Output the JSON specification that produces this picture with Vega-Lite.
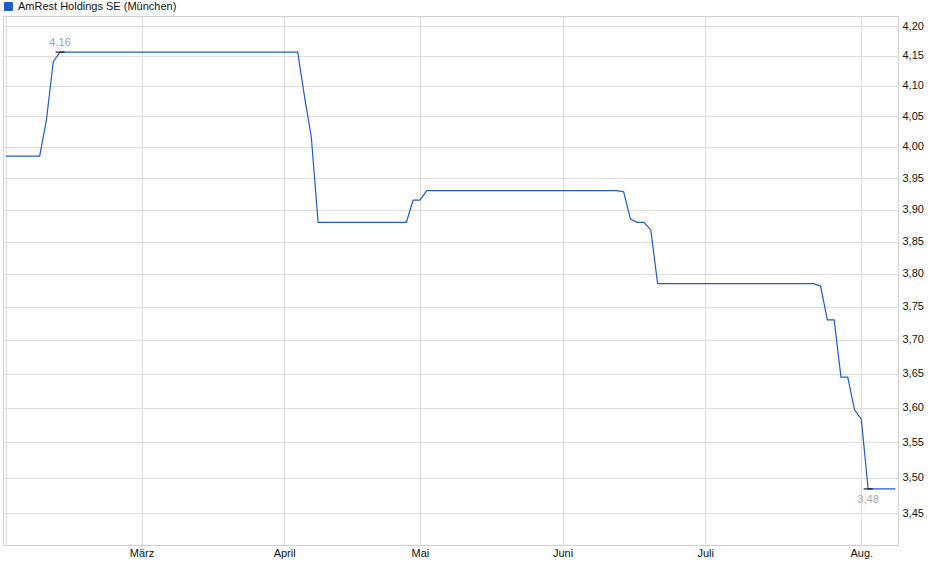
{
  "$schema": "https://vega.github.io/schema/vega-lite/v6.json",
  "autosize": {"type": "none"},
  "padding": {"left": 3, "top": 16, "right": 42, "bottom": 34},
  "width": 895,
  "height": 529,
  "background": "#ffffff",
  "config": {
    "font": "Liberation Sans",
    "view": {"stroke": "#d0d0d0", "strokeWidth": 1},
    "axis": {"labelFont": "Liberation Sans", "labelFontSize": 11, "labelColor": "#111111", "gridColor": "#dddddd", "gridWidth": 1, "domain": false, "ticks": false, "title": null}
  },
  "datasets": {
    "px": [
      {"i":0,"v":3.985},{"i":1,"v":3.985},{"i":2,"v":3.985},{"i":3,"v":3.985},{"i":4,"v":3.985},{"i":5,"v":3.985},
      {"i":6,"v":4.044},{"i":7,"v":4.140},{"i":8,"v":4.156},{"i":9,"v":4.156},{"i":10,"v":4.156},{"i":11,"v":4.156},
      {"i":12,"v":4.156},{"i":13,"v":4.156},{"i":14,"v":4.156},{"i":15,"v":4.156},{"i":16,"v":4.156},{"i":17,"v":4.156},
      {"i":18,"v":4.156},{"i":19,"v":4.156},{"i":20,"v":4.156},{"i":21,"v":4.156},{"i":22,"v":4.156},{"i":23,"v":4.156},
      {"i":24,"v":4.156},{"i":25,"v":4.156},{"i":26,"v":4.156},{"i":27,"v":4.156},{"i":28,"v":4.156},{"i":29,"v":4.156},
      {"i":30,"v":4.156},{"i":31,"v":4.156},{"i":32,"v":4.156},{"i":33,"v":4.156},{"i":34,"v":4.156},{"i":35,"v":4.156},
      {"i":36,"v":4.156},{"i":37,"v":4.156},{"i":38,"v":4.156},{"i":39,"v":4.156},{"i":40,"v":4.156},{"i":41,"v":4.156},
      {"i":42,"v":4.156},{"i":43,"v":4.156},{"i":44,"v":4.082},{"i":45,"v":4.016},{"i":46,"v":3.880},{"i":47,"v":3.880},
      {"i":48,"v":3.880},{"i":49,"v":3.880},{"i":50,"v":3.880},{"i":51,"v":3.880},{"i":52,"v":3.880},{"i":53,"v":3.880},
      {"i":54,"v":3.880},{"i":55,"v":3.880},{"i":56,"v":3.880},{"i":57,"v":3.880},{"i":58,"v":3.880},{"i":59,"v":3.880},
      {"i":60,"v":3.915},{"i":61,"v":3.915},{"i":62,"v":3.930},{"i":63,"v":3.930},{"i":64,"v":3.930},{"i":65,"v":3.930},
      {"i":66,"v":3.930},{"i":67,"v":3.930},{"i":68,"v":3.930},{"i":69,"v":3.930},{"i":70,"v":3.930},{"i":71,"v":3.930},
      {"i":72,"v":3.930},{"i":73,"v":3.930},{"i":74,"v":3.930},{"i":75,"v":3.930},{"i":76,"v":3.930},{"i":77,"v":3.930},
      {"i":78,"v":3.930},{"i":79,"v":3.930},{"i":80,"v":3.930},{"i":81,"v":3.930},{"i":82,"v":3.930},{"i":83,"v":3.930},
      {"i":84,"v":3.930},{"i":85,"v":3.930},{"i":86,"v":3.930},{"i":87,"v":3.930},{"i":88,"v":3.930},{"i":89,"v":3.930},
      {"i":90,"v":3.930},{"i":91,"v":3.928},{"i":92,"v":3.885},{"i":93,"v":3.880},{"i":94,"v":3.880},{"i":95,"v":3.868},
      {"i":96,"v":3.785},{"i":97,"v":3.785},{"i":98,"v":3.785},{"i":99,"v":3.785},{"i":100,"v":3.785},{"i":101,"v":3.785},
      {"i":102,"v":3.785},{"i":103,"v":3.785},{"i":104,"v":3.785},{"i":105,"v":3.785},{"i":106,"v":3.785},{"i":107,"v":3.785},
      {"i":108,"v":3.785},{"i":109,"v":3.785},{"i":110,"v":3.785},{"i":111,"v":3.785},{"i":112,"v":3.785},{"i":113,"v":3.785},
      {"i":114,"v":3.785},{"i":115,"v":3.785},{"i":116,"v":3.785},{"i":117,"v":3.785},{"i":118,"v":3.785},{"i":119,"v":3.785},
      {"i":120,"v":3.781},{"i":121,"v":3.730},{"i":122,"v":3.730},{"i":123,"v":3.645},{"i":124,"v":3.645},{"i":125,"v":3.597},
      {"i":126,"v":3.583},{"i":127,"v":3.484},{"i":128,"v":3.484},{"i":129,"v":3.484},{"i":130,"v":3.484},{"i":131,"v":3.484}
    ],
    "ext": [
      {"i": 8, "v": 4.156, "t": "4,16", "k": "max"},
      {"i": 127, "v": 3.484, "t": "3,48", "k": "min"}
    ]
  },
  "encoding": {
    "x": {
      "field": "i", "type": "quantitative",
      "scale": {"domain": [-0.4, 131.4], "nice": false, "zero": false},
      "axis": {
        "orient": "bottom", "values": [0, 20, 41, 61, 82, 103, 126], "labelPadding": 2,
        "labelExpr": "datum.value == 20 ? 'März' : datum.value == 41 ? 'April' : datum.value == 61 ? 'Mai' : datum.value == 82 ? 'Juni' : datum.value == 103 ? 'Juli' : datum.value == 126 ? 'Aug.' : ''"
      }
    },
    "y": {
      "field": "v", "type": "quantitative",
      "scale": {"type": "log", "domain": [3.406, 4.217], "nice": false, "zero": false},
      "axis": {
        "orient": "right", "labelPadding": 4,
        "values": [3.45, 3.5, 3.55, 3.6, 3.65, 3.7, 3.75, 3.8, 3.85, 3.9, 3.95, 4.0, 4.05, 4.1, 4.15, 4.2],
        "labelExpr": "replace(format(datum.value, '.2f'), '.', ',')"
      }
    }
  },
  "layer": [
    {
      "data": {"name": "px"},
      "mark": {"type": "line", "strokeWidth": 1.2, "interpolate": "linear"},
      "encoding": {
        "color": {
          "datum": "AmRest Holdings SE (München)",
          "scale": {"range": ["#1f5cc4"]},
          "legend": {
            "orient": "none", "legendX": 0, "legendY": -15, "padding": 0, "title": null,
            "symbolType": "square", "symbolSize": 64, "labelOffset": 4,
            "labelFont": "Liberation Sans", "labelFontSize": 11, "labelColor": "#111111",
            "encode": {"symbols": {"update": {"fill": {"value": "#1f5cc4"}, "stroke": {"value": "#0b2a66"}, "strokeWidth": {"value": 1}}}}
          }
        }
      }
    },
    {
      "data": {"name": "ext"},
      "mark": {"type": "tick", "orient": "horizontal", "color": "#000000", "size": 9, "thickness": 1.5}
    },
    {
      "data": {"name": "ext"},
      "transform": [{"filter": "datum.k == 'max'"}],
      "mark": {"type": "text", "font": "Liberation Sans", "fontSize": 11, "color": "#8f9fc2", "dy": -9, "baseline": "middle"},
      "encoding": {"text": {"field": "t"}}
    },
    {
      "data": {"name": "ext"},
      "transform": [{"filter": "datum.k == 'min'"}],
      "mark": {"type": "text", "font": "Liberation Sans", "fontSize": 11, "color": "#aaaaaa", "dy": 11, "baseline": "middle"},
      "encoding": {"text": {"field": "t"}}
    }
  ]
}
